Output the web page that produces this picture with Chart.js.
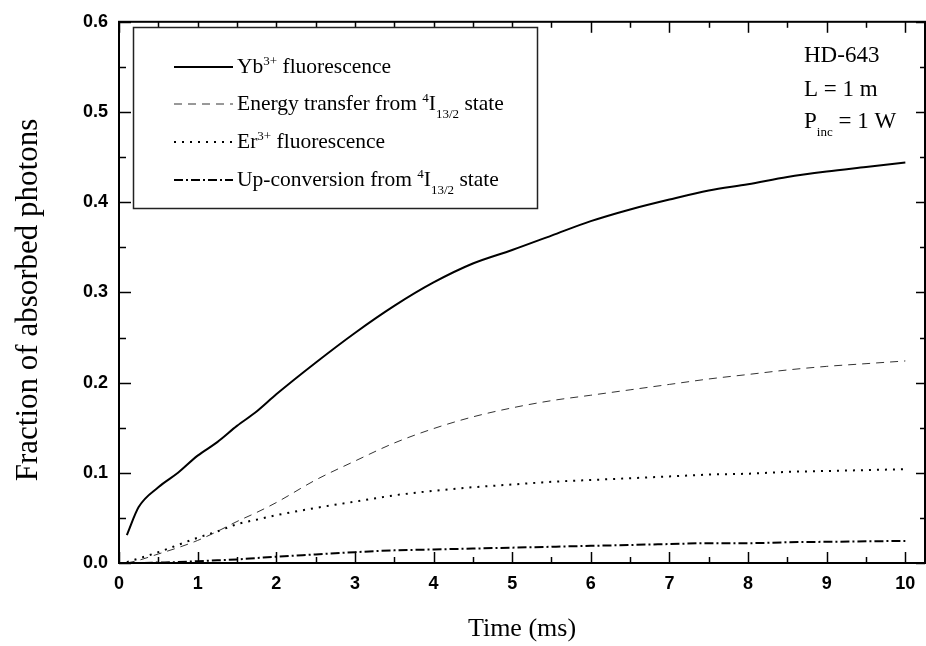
<!DOCTYPE html>
<html>
<head>
<meta charset="utf-8">
<title>Fraction of absorbed photons</title>
<script src="https://cdn.jsdelivr.net/npm/chart.js@4.4.0/dist/chart.umd.min.js"></script>
<style>
  body { margin: 0; background: #fff; }
  canvas { display: block; }
</style>
</head>
<body>
<canvas id="graph1" width="926" height="646"></canvas>
<script>
// time points (ms)
var times = [0.1, 0.25, 0.5, 0.75, 1, 1.25, 1.5, 1.75, 2, 2.5, 3, 3.5, 4, 4.5, 5, 5.5, 6, 6.5, 7, 7.5, 8, 8.5, 9, 9.5, 10];

// fraction of absorbed photons
var ybFluor        = [0.031, 0.062, 0.084, 0.100, 0.119, 0.134, 0.152, 0.168, 0.187, 0.222, 0.255, 0.285, 0.311, 0.332, 0.347, 0.363, 0.379, 0.392, 0.403, 0.413, 0.420, 0.428, 0.434, 0.439, 0.444];
var energyTransfer = [0.000, 0.003, 0.010, 0.017, 0.025, 0.035, 0.046, 0.056, 0.067, 0.092, 0.113, 0.133, 0.149, 0.162, 0.172, 0.180, 0.186, 0.192, 0.198, 0.204, 0.209, 0.214, 0.218, 0.221, 0.224];
var erFluor        = [0.001, 0.005, 0.012, 0.020, 0.028, 0.035, 0.043, 0.048, 0.053, 0.061, 0.068, 0.075, 0.080, 0.084, 0.087, 0.090, 0.092, 0.094, 0.096, 0.098, 0.099, 0.101, 0.102, 0.103, 0.104];
var upConversion   = [0.000, 0.000, 0.0005, 0.001, 0.002, 0.003, 0.004, 0.0055, 0.007, 0.0095, 0.012, 0.014, 0.015, 0.016, 0.017, 0.018, 0.019, 0.020, 0.021, 0.022, 0.022, 0.023, 0.0235, 0.024, 0.0245];

var xTicks = [0, 1, 2, 3, 4, 5, 6, 7, 8, 9, 10];
var yTicks = [0, 0.1, 0.2, 0.3, 0.4, 0.5, 0.6];

// legend text, pieces with super/subscripts
var legendText = [
    [{t: 'Yb'}, {t: '3+', sup: true}, {t: ' fluorescence'}],
    [{t: 'Energy transfer from '}, {t: '4', sup: true}, {t: 'I'}, {t: '13/2', sub: true}, {t: ' state'}],
    [{t: 'Er'}, {t: '3+', sup: true}, {t: ' fluorescence'}],
    [{t: 'Up-conversion from '}, {t: '4', sup: true}, {t: 'I'}, {t: '13/2', sub: true}, {t: ' state'}]
];

var notes = [
    [{t: 'HD-643'}],
    [{t: 'L = 1 m'}],
    [{t: 'P'}, {t: 'inc', sub: true}, {t: ' = 1 W'}]
];

function pts(vals) {
    return times.map(function(t, i) { return {x: t, y: vals[i]}; });
}

var SERIF = '"Liberation Serif", "Times New Roman", serif';

function drawRuns(ctx, x, y, runs, size) {
    runs.forEach(function(r) {
        var s = size, dy = 0;
        if (r.sup) { s = 13; dy = -8; }
        if (r.sub) { s = 13; dy = 8; }
        ctx.font = s + 'px ' + SERIF;
        ctx.fillText(r.t, x, y + dy);
        x += ctx.measureText(r.t).width;
    });
}

function seg(ctx, x1, y1, x2, y2) {
    ctx.beginPath();
    ctx.moveTo(x1, y1);
    ctx.lineTo(x2, y2);
    ctx.stroke();
}

// frame, inward ticks, titles, legend box, notes
var framePlugin = {
    id: 'frame',
    afterDraw: function(chart) {
        var ctx = chart.ctx;
        var a = chart.chartArea;
        var xs = chart.scales.x, ys = chart.scales.y;
        ctx.save();
        ctx.strokeStyle = '#000';
        ctx.fillStyle = '#000';
        ctx.setLineDash([]);

        ctx.lineWidth = 1.5;
        var i, v, p, major;
        for (i = 0; i <= 20; i++) {
            v = i * 0.5;
            p = Math.round(xs.getPixelForValue(v)) + 0.5;
            major = (i % 2 === 0);
            seg(ctx, p, a.bottom, p, a.bottom - (major ? 11 : 6));
            seg(ctx, p, a.top, p, a.top + (major ? 11 : 6));
        }
        for (i = 0; i <= 12; i++) {
            v = i * 0.05;
            p = Math.round(ys.getPixelForValue(v)) + 0.5;
            major = (i % 2 === 0);
            seg(ctx, a.left, p, a.left + (major ? 12 : 7), p);
            seg(ctx, a.right, p, a.right - (major ? 9 : 5), p);
        }

        ctx.lineWidth = 2;
        ctx.strokeRect(a.left, a.top, a.right - a.left, a.bottom - a.top);

        // axis titles
        ctx.textAlign = 'center';
        ctx.textBaseline = 'alphabetic';
        ctx.font = '26px ' + SERIF;
        ctx.fillText('Time (ms)', (a.left + a.right) / 2, 636);
        ctx.save();
        ctx.translate(37, 300);
        ctx.rotate(-Math.PI / 2);
        ctx.font = '31px ' + SERIF;
        ctx.fillText('Fraction of absorbed photons', 0, 0);
        ctx.restore();

        // legend
        ctx.textAlign = 'left';
        ctx.fillStyle = '#fff';
        ctx.fillRect(133, 27, 404, 181);
        ctx.strokeStyle = '#222';
        ctx.lineWidth = 1.5;
        ctx.strokeRect(133.5, 27.5, 404, 181);
        ctx.fillStyle = '#000';
        var rows = [67, 104, 142, 180];
        chart.data.datasets.forEach(function(ds, k) {
            ctx.strokeStyle = ds.borderColor;
            ctx.lineWidth = ds.borderWidth;
            ctx.setLineDash(ds.borderDash || []);
            seg(ctx, 174, rows[k], 233, rows[k]);
            ctx.setLineDash([]);
            drawRuns(ctx, 237, rows[k] + 6, legendText[k], 21.5);
        });

        // sample notes
        var noteY = [62, 96, 128];
        notes.forEach(function(n, k) {
            drawRuns(ctx, 804, noteY[k], n, 23);
        });
        ctx.restore();
    }
};

var canvasGraph = document.getElementById('graph1');
var ctx = canvasGraph.getContext('2d');

var myChart = new Chart(ctx, {
    type: 'line',
    data: {
        datasets: [{
            label: 'Yb3+ fluorescence',
            data: pts(ybFluor),
            borderColor: '#000',
            borderWidth: 2,
            borderDash: []
        }, {
            label: 'Energy transfer from 4I13/2 state',
            data: pts(energyTransfer),
            borderColor: '#333',
            borderWidth: 1,
            borderDash: [8, 6]
        }, {
            label: 'Er3+ fluorescence',
            data: pts(erFluor),
            borderColor: '#000',
            borderWidth: 2,
            borderDash: [2, 6]
        }, {
            label: 'Up-conversion from 4I13/2 state',
            data: pts(upConversion),
            borderColor: '#000',
            borderWidth: 2,
            borderDash: [9, 3, 2, 3]
        }]
    },
    options: {
        responsive: false,
        animation: false,
        devicePixelRatio: 1,
        elements: {
            point: { radius: 0 },
            line: { cubicInterpolationMode: 'monotone' }
        },
        layout: { padding: { top: 17, right: 1, left: 0, bottom: 0 } },
        scales: {
            x: {
                type: 'linear',
                min: 0,
                max: 10.25,
                grid: { display: false, drawTicks: false, tickLength: 0 },
                border: { display: false },
                afterBuildTicks: function(scale) {
                    scale.ticks = xTicks.map(function(v) { return {value: v}; });
                },
                afterFit: function(scale) { scale.height = 83; },
                ticks: {
                    padding: 10,
                    maxRotation: 0,
                    color: '#000',
                    font: { family: '"Liberation Sans", Arial, sans-serif', size: 18, weight: 'bold' },
                    callback: function(v) { return String(v); }
                }
            },
            y: {
                min: 0,
                max: 0.6,
                grid: { display: false, drawTicks: false, tickLength: 0 },
                border: { display: false },
                afterBuildTicks: function(scale) {
                    scale.ticks = yTicks.map(function(v) { return {value: v}; });
                },
                afterFit: function(scale) { scale.width = 119; },
                ticks: {
                    padding: 11,
                    color: '#000',
                    font: { family: '"Liberation Sans", Arial, sans-serif', size: 18, weight: 'bold' },
                    callback: function(v) { return v.toFixed(1); }
                }
            }
        },
        plugins: {
            legend: { display: false },
            tooltip: { enabled: false }
        }
    },
    plugins: [framePlugin]
});
</script>
</body>
</html>
